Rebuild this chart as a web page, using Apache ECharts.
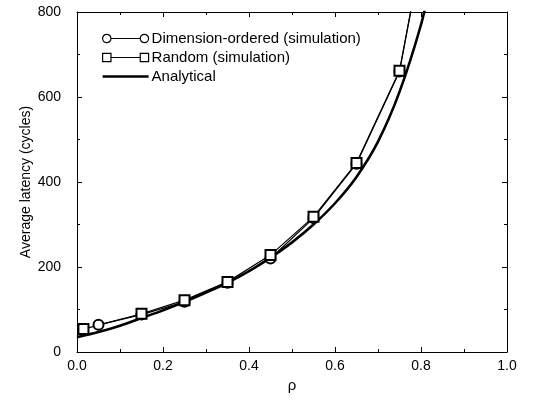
<!DOCTYPE html>
<html>
<head>
<meta charset="utf-8">
<script src="https://cdn.jsdelivr.net/npm/echarts@6/dist/echarts.min.js"></script>
<style>html,body{margin:0;padding:0;background:#fff}#c{width:542px;height:402px}</style>
</head>
<body>
<div id="c"></div>
<script>
// Data
var dimRho   = [0.05, 0.15, 0.25, 0.35, 0.45, 0.55, 0.65, 0.75, 0.80];
var dimLat   = [64,   88,   118,  163,  220,  315,  443,  660,  930];
var randRho  = [0.015, 0.15, 0.25, 0.35, 0.45, 0.55, 0.65, 0.75, 0.80];
var randLat  = [54,    90,   122,  165,  228,  318,  445,  662,  930];
var anaRho   = [0.00, 0.05, 0.10, 0.15, 0.20, 0.25, 0.30, 0.35, 0.40, 0.45, 0.50, 0.55, 0.60, 0.65, 0.70, 0.75, 0.80, 0.82];
var anaLat   = [35,   47,   62,   80,   98,   118,  140,  163,  190,  222,  258,  300,  350,  412,  495,  612,  770,  860];
var xTicks   = ['0.0','0.2','0.4','0.6','0.8','1.0'];
var yTicks   = ['0','200','400','600','800'];
var seriesNames = ['Dimension-ordered (simulation)', 'Random (simulation)', 'Analytical'];

function pairs(xs, ys){ return xs.map(function(x,i){ return [x, ys[i]]; }); }

var font = 'Liberation Sans, Arial, Helvetica, sans-serif';
var chart = echarts.init(document.getElementById('c'), null, {renderer:'canvas'});

var circIcon = 'path://M1,5 A4,4 0 1,0 9,5 A4,4 0 1,0 1,5 Z M9,5 L37,5 M37,5 A4,4 0 1,0 45,5 A4,4 0 1,0 37,5 Z';
var rectIcon = 'path://M1,1 L9,1 L9,9 L1,9 Z M9,5 L37,5 M37,1 L45,1 L45,9 L37,9 Z';
var lineIcon = 'path://M4,4 L43,4 L43,6.2 L4,6.2 Z';

function axisCommon(){
  return {
    axisLine: {show:true, onZero:false, lineStyle:{color:'#000', width:1}},
    axisTick: {show:true, inside:true, length:5, lineStyle:{color:'#000'}},
    minorTick: {show:true, splitNumber:2, length:3, lineStyle:{color:'#000'}},
    splitLine: {show:false}
  };
}

chart.setOption({
  animation: false,
  backgroundColor: '#fff',
  grid: {left:77, right:35, top:12, bottom:50, containLabel:false},
  legend: {
    orient: 'vertical', left: 97, top: 26, itemWidth: 46, itemHeight: 10, itemGap: 4,
    textStyle: {fontFamily: font, fontSize: 15, lineHeight: 15, color:'#000', padding:[0,0,0,-2]},
    data: [
      {name: seriesNames[0], icon: circIcon, itemStyle:{color:'rgba(0,0,0,0)', borderColor:'#000', borderWidth:1.2}},
      {name: seriesNames[1], icon: rectIcon, itemStyle:{color:'rgba(0,0,0,0)', borderColor:'#000', borderWidth:1.2}},
      {name: seriesNames[2], icon: lineIcon, itemStyle:{color:'#000', borderWidth:0}}
    ]
  },
  xAxis: [
    Object.assign({
      type:'value', min:0, max:1, interval:0.2,
      name:'\u03c1', nameLocation:'middle', nameGap:26,
      nameTextStyle:{fontFamily:font, fontSize:15, color:'#000'},
      axisLabel:{fontFamily:font, fontSize:14, color:'#000', margin:7,
        formatter:function(v){ var i=Math.round(v/0.2); return xTicks[i]; }}
    }, axisCommon()),
    Object.assign({
      type:'value', min:0, max:1, interval:0.2, position:'top',
      axisLabel:{show:false}
    }, axisCommon())
  ],
  yAxis: [
    Object.assign({
      type:'value', min:0, max:800, interval:200,
      name:'Average latency (cycles)', nameLocation:'middle', nameGap:44, nameMoveOverlap:false,
      nameTextStyle:{fontFamily:font, fontSize:14, color:'#000'},
      axisLabel:{fontFamily:font, fontSize:14, color:'#000', margin:16,
        formatter:function(v){ var i=Math.round(v/200); return yTicks[i]; }}
    }, axisCommon()),
    Object.assign({
      type:'value', min:0, max:800, interval:200, position:'right',
      axisLabel:{show:false}
    }, axisCommon())
  ],
  series: [
    {
      name: seriesNames[2], type:'line', data: pairs(anaRho, anaLat),
      smooth: 0.3, showSymbol:false, symbol:'none',
      lineStyle:{color:'#000', width:2.6}, itemStyle:{color:'#000'}, z:2
    },
    {
      name: seriesNames[0], type:'line', data: pairs(dimRho, dimLat),
      symbol:'emptyCircle', symbolSize:10, showAllSymbol:true,
      lineStyle:{color:'#000', width:1.2}, itemStyle:{color:'#000', borderWidth:1.2}, z:3
    },
    {
      name: seriesNames[1], type:'line', data: pairs(randRho, randLat),
      symbol:'emptyRect', symbolSize:10, showAllSymbol:true,
      lineStyle:{color:'#000', width:1.2}, itemStyle:{color:'#000', borderWidth:1.2}, z:3
    }
  ]
});
</script>
</body>
</html>
